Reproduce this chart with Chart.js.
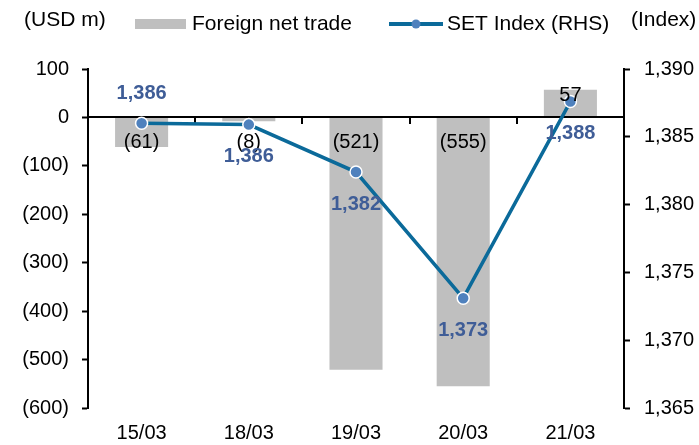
<!DOCTYPE html>
<html>
<head>
<meta charset="utf-8">
<script src="https://cdn.jsdelivr.net/npm/chart.js@4.4.1/dist/chart.umd.min.js"></script>
<style>
  html, body { margin: 0; padding: 0; background: #fff; }
  #wrap { position: relative; width: 699px; height: 445px; }
</style>
</head>
<body>
<div id="wrap"><canvas id="c" width="699" height="445"></canvas></div>
<script>
const dates = ["15/03", "18/03", "19/03", "20/03", "21/03"];
const foreignNetTrade = [-61, -8, -521, -555, 57];
const setIndex = [1386.0, 1385.9, 1382.4, 1373.1, 1387.6];

const FONT = "'Liberation Sans', Arial, sans-serif";
const barColor = "#BFBFBF";
const lineColor = "#0B6A9A";
const markerColor = "#4F81BD";
const labelBlue = "#3F5D97";

const fmtLeft = v => (v < 0 ? "(" + Math.abs(v).toLocaleString("en-US") + ")" : v.toLocaleString("en-US"));
const fmtRight = v => Math.round(v).toLocaleString("en-US");

// line labels: above or below the point
const linePlace = ["above", "below", "below", "below", "below"];

const extras = {
  id: "extras",
  afterDatasetDraw(chart, args) {
    if (args.index !== 0) return;
    // zero axis line with category boundary ticks
    const { ctx, chartArea } = chart;
    const x = chart.scales.x, y = chart.scales.y;
    const y0 = Math.round(y.getPixelForValue(0));
    ctx.save();
    ctx.strokeStyle = "#000";
    ctx.lineWidth = 2;
    ctx.beginPath();
    ctx.moveTo(chartArea.left, y0);
    ctx.lineTo(chartArea.right, y0);
    for (let i = 1; i < dates.length; i++) {
      const bx = Math.round((x.getPixelForValue(i - 1) + x.getPixelForValue(i)) / 2);
      ctx.moveTo(bx, y0);
      ctx.lineTo(bx, y0 + 7);
    }
    ctx.stroke();
    ctx.restore();
  },
  afterDatasetsDraw(chart) {
    const { ctx } = chart;
    const y = chart.scales.y;
    const y0 = y.getPixelForValue(0);
    ctx.save();
    ctx.textAlign = "center";
    ctx.textBaseline = "middle";
    // bar labels
    ctx.font = "20px " + FONT;
    ctx.fillStyle = "#000";
    chart.getDatasetMeta(0).data.forEach((el, i) => {
      const v = foreignNetTrade[i];
      const ty = v < 0 ? y0 + 25 : el.y + 6;
      ctx.fillText(fmtLeft(v), el.x, ty);
    });
    // line labels
    ctx.font = "bold 20px " + FONT;
    ctx.fillStyle = labelBlue;
    chart.getDatasetMeta(1).data.forEach((el, i) => {
      const ty = linePlace[i] === "above" ? el.y - 30 : el.y + 32;
      ctx.fillText(fmtRight(setIndex[i]), el.x, ty);
    });
    // unit titles
    ctx.font = "21px " + FONT;
    ctx.fillStyle = "#000";
    ctx.textAlign = "left";
    ctx.fillText("(USD m)", 24, 20);
    ctx.fillText("(Index)", 631, 20);
    // legend
    ctx.fillStyle = barColor;
    ctx.fillRect(135, 19, 51, 10);
    ctx.fillStyle = "#000";
    ctx.fillText("Foreign net trade", 192, 24);
    ctx.strokeStyle = lineColor;
    ctx.lineWidth = 4;
    ctx.beginPath();
    ctx.moveTo(389, 24);
    ctx.lineTo(443, 24);
    ctx.stroke();
    ctx.fillStyle = markerColor;
    ctx.beginPath();
    ctx.arc(416, 24, 4.5, 0, Math.PI * 2);
    ctx.fill();
    ctx.fillStyle = "#000";
    ctx.fillText("SET Index (RHS)", 447, 24);
    ctx.restore();
  }
};

new Chart(document.getElementById("c"), {
  data: {
    labels: dates,
    datasets: [
      {
        type: "bar",
        label: "Foreign net trade",
        data: foreignNetTrade,
        backgroundColor: barColor,
        yAxisID: "y",
        categoryPercentage: 1,
        barPercentage: 0.495,
        order: 1
      },
      {
        type: "line",
        label: "SET Index (RHS)",
        data: setIndex,
        yAxisID: "y1",
        borderColor: lineColor,
        borderWidth: 3.5,
        pointRadius: 6,
        pointBackgroundColor: markerColor,
        pointBorderColor: "#fff",
        pointBorderWidth: 1.5,
        tension: 0,
        order: 0
      }
    ]
  },
  options: {
    responsive: false,
    animation: false,
    layout: { padding: { top: 69, left: 0, right: 0, bottom: 0 } },
    plugins: {
      legend: { display: false },
      tooltip: { enabled: false }
    },
    scales: {
      x: {
        grid: { display: false, drawTicks: false },
        border: { display: false },
        ticks: { color: "#000", font: { family: FONT, size: 20 }, padding: 13 },
        afterFit: s => { s.height = 37; }
      },
      y: {
        position: "left",
        min: -600, max: 100,
        ticks: { stepSize: 100, color: "#000", font: { family: FONT, size: 20 }, padding: 13, callback: v => fmtLeft(v) },
        grid: { drawOnChartArea: false, tickLength: 6, color: "#000", tickWidth: 2 },
        border: { display: true, color: "#000", width: 2 },
        afterFit: s => { s.width = 88; }
      },
      y1: {
        position: "right",
        min: 1365, max: 1390,
        ticks: { stepSize: 5, color: "#000", font: { family: FONT, size: 20 }, padding: 14, callback: v => fmtRight(v) },
        grid: { drawOnChartArea: false, tickLength: 6, color: "#000", tickWidth: 2 },
        border: { display: true, color: "#000", width: 2 },
        afterFit: s => { s.width = 75; }
      }
    }
  },
  plugins: [extras]
});
</script>
</body>
</html>
